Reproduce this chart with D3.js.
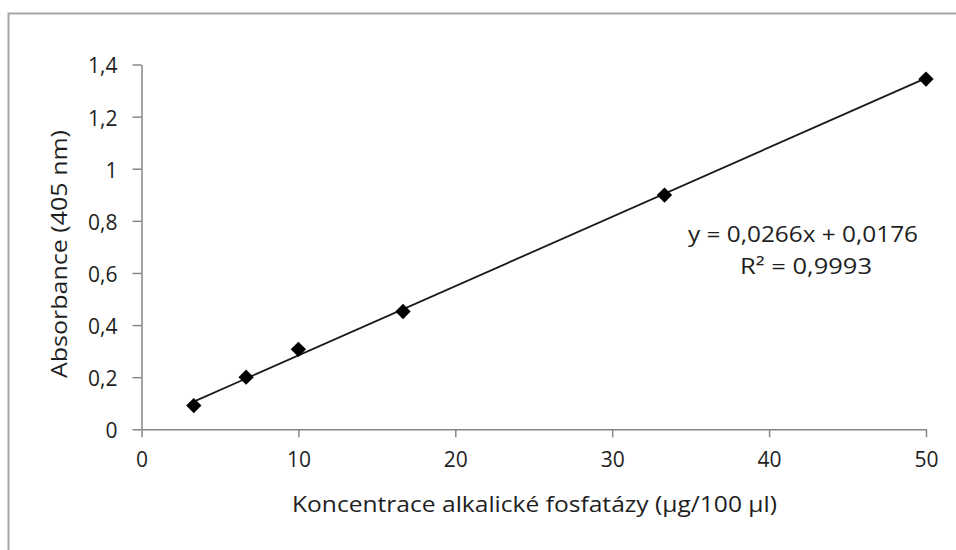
<!DOCTYPE html>
<html>
<head>
<meta charset="utf-8">
<script src="https://cdn.jsdelivr.net/npm/d3@7"></script>
<style>
  html, body { margin: 0; padding: 0; background: #fff; }
  svg { display: block; }
  text { font-family: "Open Sans", "DejaVu Sans", sans-serif; fill: #1e1e1e; }
</style>
</head>
<body>
<svg id="chart" width="956" height="550"></svg>
<script>
// Calibration series: enzyme concentration vs. absorbance at 405 nm
const concentration = [3.333, 6.667, 10, 16.667, 33.333, 50];
const absorbance = [0.091, 0.2, 0.307, 0.452, 0.899, 1.344];

// Linear fit reported on the chart
const slope = 0.0266;
const intercept = 0.0176;
const equationLabel = "y = 0,0266x + 0,0176";
const r2Label = "R² = 0,9993";

const xTicks = [0, 10, 20, 30, 40, 50];
const yTicks = [0, 0.2, 0.4, 0.6, 0.8, 1, 1.2, 1.4];

const xTitle = "Koncentrace alkalické fosfatázy (µg/100 µl)";
const yTitle = "Absorbance (405 nm)";

const W = 956, H = 550;
const plot = { left: 141.5, right: 926, top: 64.5, bottom: 429.3 };

const svg = d3.select("#chart");

// Chart frame (continues past the right and bottom edges of the page)
svg.append("rect")
  .attr("x", 8.5).attr("y", 13.5)
  .attr("width", W + 20).attr("height", H + 20)
  .attr("fill", "#fff")
  .attr("stroke", "#a6a6a6")
  .attr("stroke-width", 2);

const x = d3.scaleLinear().domain([0, 50]).range([plot.left, plot.right]);
const y = d3.scaleLinear().domain([0, 1.4]).range([plot.bottom, plot.top]);

const fmt = d => d3.format("~g")(d).replace(".", ",");

// Axes
const xAxis = svg.append("g")
  .attr("transform", `translate(0,${plot.bottom})`)
  .call(d3.axisBottom(x).tickValues(xTicks).tickSize(8).tickSizeOuter(0).tickPadding(14).tickFormat(fmt));

const yAxis = svg.append("g")
  .attr("transform", `translate(${plot.left},0)`)
  .call(d3.axisLeft(y).tickValues(yTicks).tickSize(9).tickSizeOuter(0).tickPadding(15).tickFormat(fmt));

[xAxis, yAxis].forEach(g => {
  g.select(".domain").attr("stroke", "#868686").attr("stroke-width", 1.5);
  g.selectAll(".tick line").attr("stroke", "#868686").attr("stroke-width", 1.5);
  g.selectAll(".tick text").attr("font-size", 21).attr("fill", "#1e1e1e")
    .attr("font-weight", 500)
    .style("font-family", "'Open Sans', sans-serif");
});
yAxis.selectAll(".tick text").attr("dy", "0.4em");
xAxis.selectAll(".tick text").attr("dy", "0.75em");

// Trendline across the measured range
const xMin = d3.min(concentration), xMax = d3.max(concentration);
svg.append("line")
  .attr("x1", x(xMin)).attr("y1", y(slope * xMin + intercept))
  .attr("x2", x(xMax)).attr("y2", y(slope * xMax + intercept))
  .attr("stroke", "#1a1a1a")
  .attr("stroke-width", 1.8);

// Diamond markers
const diamond = d3.symbol().type(d3.symbolDiamond2).size(150);
svg.append("g").selectAll("path")
  .data(concentration.map((c, i) => [c, absorbance[i]]))
  .join("path")
  .attr("d", diamond)
  .attr("transform", d => `translate(${x(d[0])},${y(d[1])})`)
  .attr("fill", "#000");

// Regression equation
svg.append("text")
  .attr("x", 803).attr("y", 233)
  .attr("text-anchor", "middle").attr("dominant-baseline", "central")
  .attr("font-size", 22).attr("font-weight", 500)
  .attr("textLength", 230).attr("lengthAdjust", "spacingAndGlyphs")
  .text(equationLabel);
svg.append("text")
  .attr("x", 806).attr("y", 265)
  .attr("text-anchor", "middle").attr("dominant-baseline", "central")
  .attr("font-size", 22).attr("font-weight", 500)
  .attr("textLength", 132).attr("lengthAdjust", "spacingAndGlyphs")
  .text(r2Label);

// Axis titles
svg.append("text")
  .attr("x", 534.5).attr("y", 503)
  .attr("text-anchor", "middle").attr("dominant-baseline", "central")
  .attr("font-size", 22).attr("font-weight", 500)
  .attr("textLength", 485).attr("lengthAdjust", "spacingAndGlyphs")
  .text(xTitle);
svg.append("text")
  .attr("transform", "translate(58,254) rotate(-90)")
  .attr("text-anchor", "middle").attr("dominant-baseline", "central")
  .attr("font-size", 22).attr("font-weight", 500)
  .attr("textLength", 248).attr("lengthAdjust", "spacingAndGlyphs")
  .text(yTitle);
</script>
</body>
</html>
